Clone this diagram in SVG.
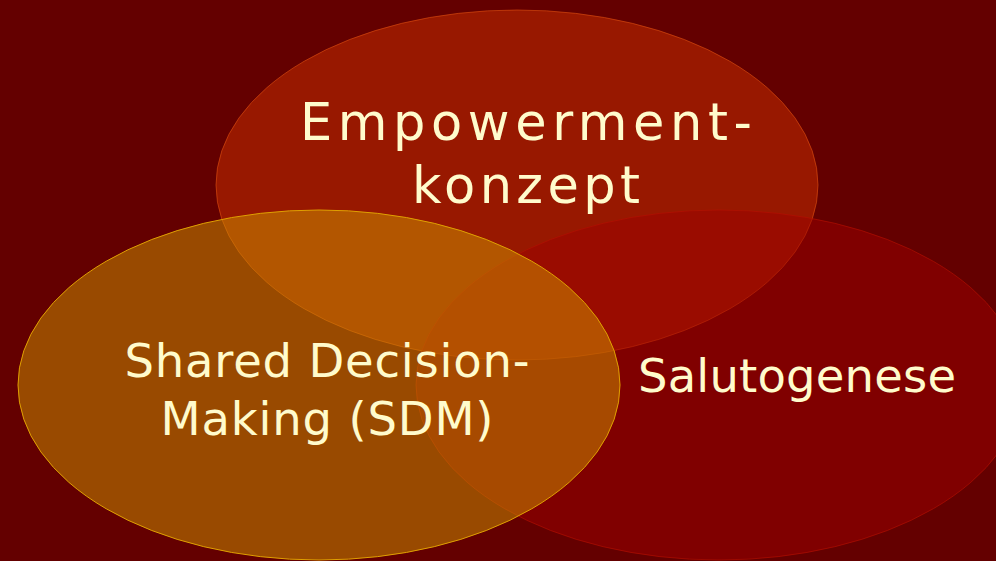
<svg xmlns="http://www.w3.org/2000/svg" width="996" height="561" viewBox="0 0 996 561">
<style>
.lbl{font-family:"DejaVu Sans","Liberation Sans",sans-serif;font-weight:normal;fill:#fffbcc}
.big{font-size:51px}
.mid{font-size:46.5px}
</style>
<rect x="0" y="0" width="996" height="561" fill="#640000"/>
<g id="empowerment">
<ellipse cx="517" cy="185" rx="301" ry="175" fill="#cc3000" fill-opacity="0.5" stroke="#e05010" stroke-opacity="0.6" stroke-width="1"/>
</g>
<g id="salutogenese">
<ellipse cx="719" cy="385" rx="303" ry="175" fill="#9c0000" fill-opacity="0.5" stroke="#b81000" stroke-opacity="0.6" stroke-width="1"/>
</g>
<g id="sdm">
<ellipse cx="319" cy="385" rx="301" ry="175" fill="#ce9400" fill-opacity="0.5" stroke="#e0a000" stroke-width="1"/>
</g>
<g id="labels">
<text class="lbl big" x="526" y="140" text-anchor="middle" textLength="452" lengthAdjust="spacing">Empowerment-</text>
<text class="lbl big" x="526" y="203" text-anchor="middle" textLength="228" lengthAdjust="spacing">konzept</text>
<text class="lbl mid" x="327" y="377" text-anchor="middle" textLength="405" lengthAdjust="spacing">Shared Decision-</text>
<text class="lbl mid" x="327" y="435" text-anchor="middle" textLength="333" lengthAdjust="spacing">Making (SDM)</text>
<text class="lbl mid" x="638" y="392" textLength="318" lengthAdjust="spacing">Salutogenese</text>
</g>
</svg>
